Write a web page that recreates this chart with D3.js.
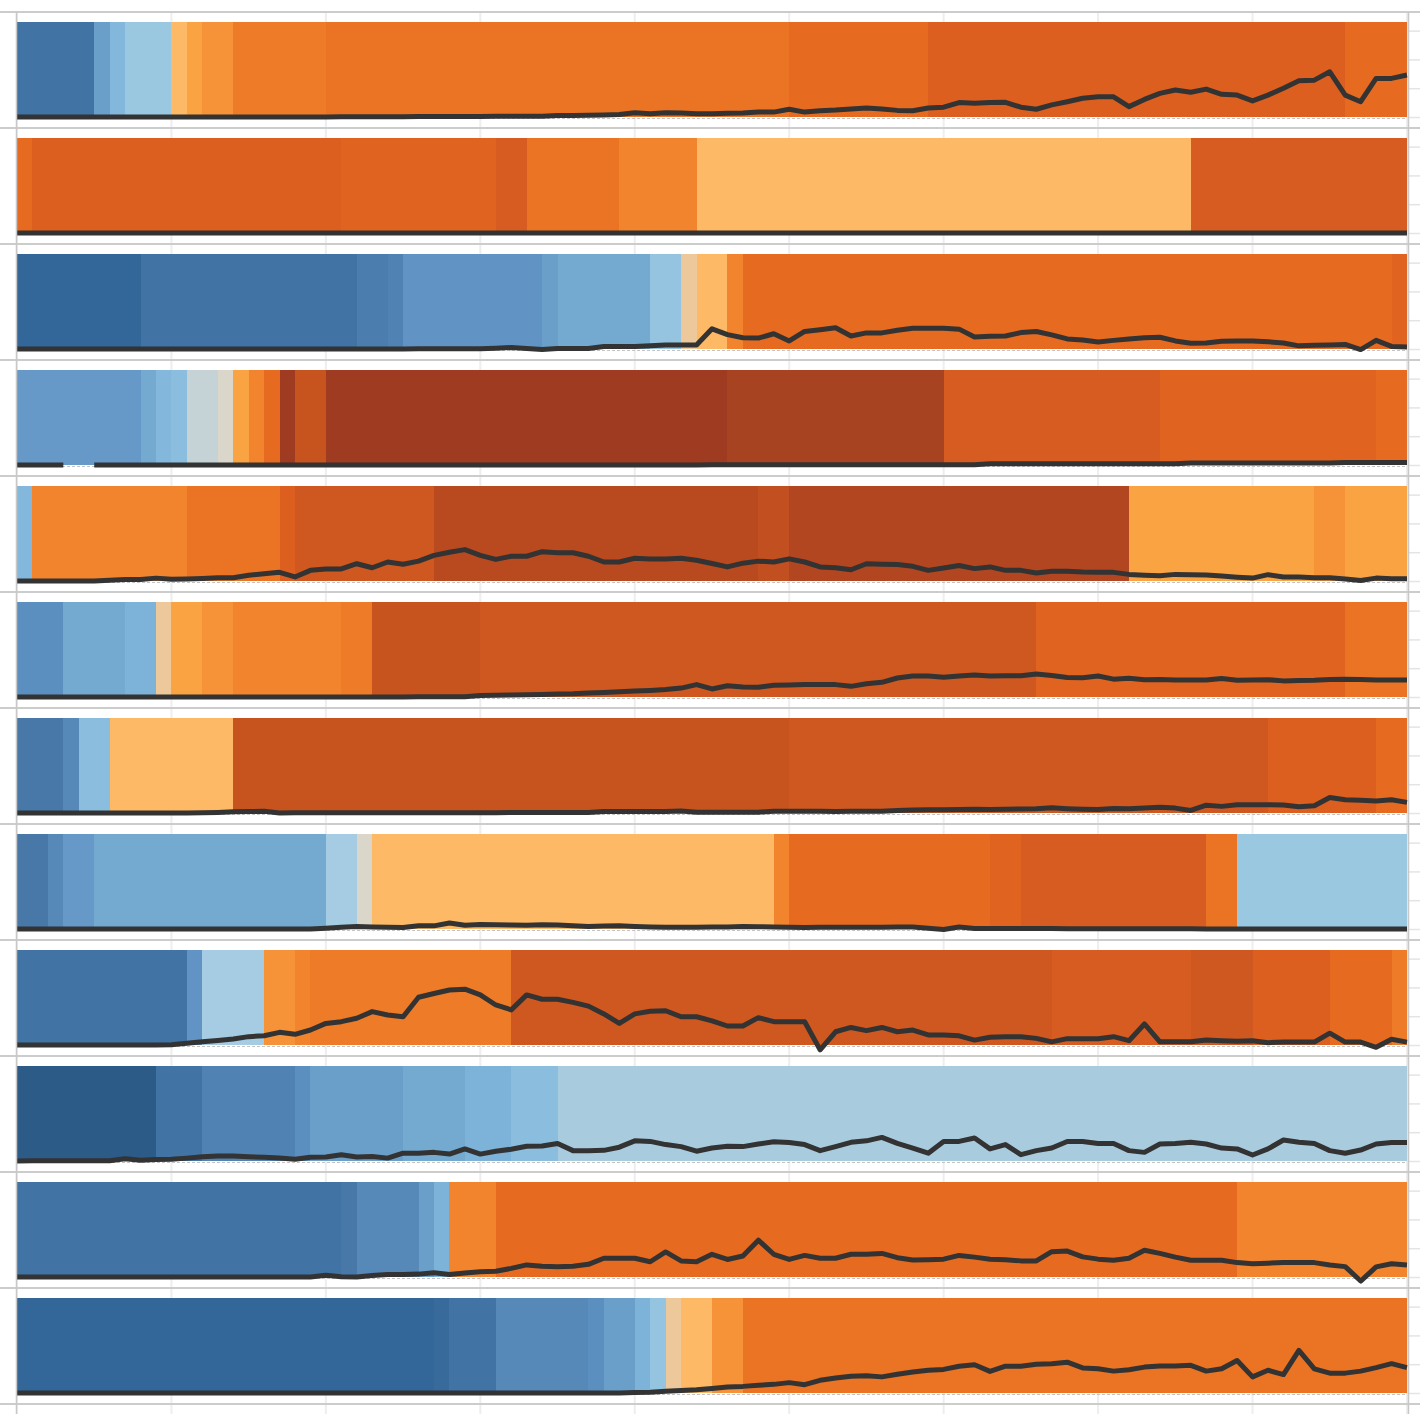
<!DOCTYPE html>
<html>
<head>
<meta charset="utf-8">
<script src="https://cdn.jsdelivr.net/npm/d3@7"></script>
<style>
  body { margin: 0; background: #fff; }
  svg { display: block; }
</style>
</head>
<body>
<div id="chart"></div>
<script>
// shade levels, dark blue -> dark brown
const shades = [
  "#2c5b88", "#336699", "#386a9c", "#4173a4", "#4878a8", "#4b7eae", "#5083b3", "#5688b8",
  "#5a8fbf", "#6194c4", "#6699c8", "#6a9fca", "#74a9d0", "#7db3d8", "#83b8dc", "#8bbede",
  "#94c4e0", "#99c8e0", "#a5cce2", "#a9cbde", "#c5d3d6", "#dad6ca", "#ecc89b", "#fdb966",
  "#f9a343", "#f69238", "#f1842d", "#ee7b27", "#eb7424", "#e66b21", "#e06420", "#dc5f20",
  "#d65c22", "#ce5820", "#c7531f", "#c24f1f", "#b94a20", "#b24620", "#a84321", "#9e3b21"
];

// bands: [start, end, shade level]
const row1Bands = [[0,5,3],[5,6,11],[6,7,14],[7,10,17],[10,11,23],[11,12,24],[12,14,25],[14,20,27],[20,50,28],[50,59,29],[59,86,31],[86,90,29]];
const row2Bands = [[0,1,29],[1,21,31],[21,31,30],[31,33,32],[33,39,28],[39,44,26],[44,76,23],[76,90,32]];
const row3Bands = [[0,8,1],[8,22,3],[22,24,5],[24,25,6],[25,34,9],[34,35,11],[35,41,12],[41,43,16],[43,44,22],[44,46,23],[46,47,26],[47,89,29],[89,90,30]];
const row4Bands = [[0,8,10],[8,9,12],[9,10,14],[10,11,15],[11,13,20],[13,14,21],[14,15,24],[15,16,26],[16,17,29],[17,18,39],[18,20,34],[20,46,39],[46,60,38],[60,74,32],[74,88,30],[88,90,29]];
const row5Bands = [[0,1,14],[1,11,26],[11,17,28],[17,18,31],[18,27,33],[27,48,36],[48,50,35],[50,72,37],[72,84,24],[84,86,25],[86,90,24]];
const row6Bands = [[0,3,8],[3,7,12],[7,9,13],[9,10,22],[10,12,24],[12,14,25],[14,21,26],[21,23,27],[23,30,34],[30,66,33],[66,86,30],[86,90,28]];
const row7Bands = [[0,3,4],[3,4,7],[4,6,15],[6,14,23],[14,50,34],[50,81,33],[81,88,31],[88,90,29]];
const row8Bands = [[0,2,4],[2,3,7],[3,5,10],[5,20,12],[20,22,18],[22,23,21],[23,49,23],[49,50,26],[50,63,29],[63,65,30],[65,77,32],[77,79,28],[79,90,17]];
const row9Bands = [[0,11,3],[11,12,9],[12,16,18],[16,18,25],[18,19,26],[19,32,27],[32,67,33],[67,76,32],[76,80,33],[80,85,31],[85,89,29],[89,90,27]];
const row10Bands = [[0,9,0],[9,12,3],[12,18,6],[18,19,8],[19,25,11],[25,29,12],[29,32,13],[32,35,15],[35,90,19]];
const row11Bands = [[0,21,3],[21,22,4],[22,26,7],[26,27,11],[27,28,13],[28,31,26],[31,79,29],[79,90,26]];
const row12Bands = [[0,27,1],[27,28,2],[28,31,3],[31,37,7],[37,38,8],[38,40,11],[40,41,13],[41,42,16],[42,43,22],[43,45,23],[45,47,25],[47,90,28]];

// line values, one per step 0..90
const row1Values = [
  0,0,0,0,0,0,0,0,0,0, 0,0,0,0,0,0,0,0,0,0,
  0,0.1,0.1,0.1,0.1,0.1,0.2,0.2,0.2,0.2,
  0.2,0.3,0.3,0.3,0.3,0.5,0.5,0.6,0.7,0.9,
  1.5,1.1,1.5,1.4,1.1,1.1,1.3,1.4,1.7,1.7,
  2.7,1.7,2.2,2.4,2.8,3.1,2.8,2.3,2.2,3.1,
  3.4,5.0,4.8,5.0,5.1,3.4,2.7,4.2,5.3,6.5,
  7.0,7.0,3.6,6.1,8.2,9.4,8.6,9.7,7.9,7.6,
  5.6,7.6,10.0,12.6,12.8,15.7,7.6,5.3,13.4,13.4,
  14.6];
const row2Values = [
  0,0,0,0,0,0,0,0,0,0, 0,0,0,0,0,0,0,0,0,0,
  0,0,0,0,0,0,0,0,0,0, 0,0,0,0,0,0,0,0,0,0,
  0,0,0,0,0,0,0,0,0,0, 0,0,0,0,0,0,0,0,0,0,
  0,0,0,0,0,0,0,0,0,0, 0,0,0,0,0,0,0,0,0,0,
  0,0,0,0,0,0,0,0,0,0, 0];
const row3Values = [
  0,0,0,0,0,0,0,0,0,0, 0,0,0,0,0,0,0,0,0,0,
  0,0,0,0,0,0,0.1,0.1,0.1,0.1,
  0.1,0.3,0.5,0.2,-0.2,0.2,0.2,0.2,0.9,0.9,
  0.9,1.1,1.4,1.4,1.4,7.0,5.0,3.9,3.8,5.3,
  2.8,6.1,6.7,7.4,4.5,5.6,5.6,6.5,7.2,7.2,
  7.2,6.9,4.2,4.4,4.5,5.7,6.1,4.9,3.5,3.1,
  2.4,3.0,3.5,3.9,4.1,2.8,2.0,2.1,2.7,2.8,
  2.8,2.5,2.1,1.1,1.3,1.4,1.6,-0.2,3.0,0.9,
  0.7];
const row4Values = [
  0,0,0,0,null,0,0,0,0,0, 0,0,0,0,0,0,0,0,0,0,
  0,0,0,0,0,0,0,0,0,0, 0,0,0,0,0,0,0,0,0,0,
  0,0,0,0,0,0.1,0.1,0.1,0.1,0.1,
  0.1,0.1,0.1,0.1,0.1,0.1,0.1,0.1,0.1,0.1,
  0.1,0.1,0.1,0.4,0.4,0.4,0.4,0.4,0.4,0.4,
  0.4,0.4,0.4,0.4,0.4,0.4,0.7,0.7,0.7,0.7,
  0.7,0.7,0.7,0.7,0.7,0.7,0.9,0.9,0.9,0.9,
  0.9];
const row5Values = [
  0,0,0,0,0,0,0.3,0.5,0.5,1.0,
  0.6,0.7,0.9,1.1,1.1,2.0,2.5,3.0,1.4,3.7,
  4.2,4.2,6.0,4.6,6.6,5.8,6.9,8.9,10.0,10.9,
  8.9,7.5,8.6,8.6,10.2,9.8,9.8,8.6,6.6,6.6,
  7.9,7.6,7.6,7.9,7.2,6.1,4.9,6.2,6.9,6.6,
  7.7,6.6,4.9,4.6,3.9,6.0,5.8,5.7,5.1,3.7,
  4.5,5.4,4.3,4.9,3.7,3.7,2.8,3.4,3.4,3.1,
  3.0,3.0,2.3,2.0,1.8,2.3,2.2,2.1,1.7,1.3,
  1.0,2.2,1.4,1.4,1.1,1.1,0.7,0.2,1.0,0.8,
  0.8];
const row6Values = [
  0,0,0,0,0,0,0,0,0,0, 0,0,0,0,0,0,0,0,0,0,
  0,0,0,0,0,0,0.1,0.1,0.1,0.1,
  0.5,0.6,0.7,0.8,0.9,1.0,1.1,1.4,1.6,1.8,
  2.1,2.3,2.6,3.1,4.3,2.8,3.9,3.5,3.4,4.1,
  4.2,4.3,4.3,4.3,3.7,4.6,5.1,6.6,7.3,7.3,
  6.9,7.3,7.6,7.3,7.4,7.4,8.0,7.5,6.8,6.7,
  7.3,6.2,6.5,6.0,6.1,5.9,5.9,5.9,6.4,5.8,
  5.9,6.0,5.6,5.7,5.8,6.1,6.2,6.1,5.9,5.9,
  5.9];
const row7Values = [
  0,0,0,0,0,0,0,0,0,0,
  0,0,0.1,0.2,0.4,0.5,0.6,0,0.1,0.1,
  0.1,0.1,0.1,0.1,0.1,0.1,0.1,0.1,0.1,0.1,
  0.1,0.1,0.2,0.2,0.2,0.2,0.2,0.2,0.5,0.5,
  0.5,0.5,0.5,0.7,0.3,0.3,0.3,0.3,0.3,0.6,
  0.6,0.6,0.6,0.5,0.6,0.6,0.6,0.9,1.0,1.1,
  1.1,1.2,1.3,1.2,1.3,1.4,1.5,1.8,1.5,1.3,
  1.2,1.6,1.5,1.7,2.0,1.7,0.9,2.7,2.3,2.9,
  2.9,2.9,2.8,2.2,2.5,5.4,4.6,4.4,4.2,4.6,
  3.7];
const row8Values = [
  0,0,0,0,0,0,0,0,0,0, 0,0,0,0,0,0,0,0,0,0,
  0.3,0.6,0.9,0.7,0.6,0.5,1.1,1.1,2.1,1.3,
  1.6,1.5,1.4,1.3,1.5,1.4,1.1,0.9,1.0,1.1,
  0.9,0.7,0.6,0.6,0.6,0.7,0.7,0.9,0.8,0.7,
  0.6,0.5,0.6,0.6,0.6,0.6,0.6,0.7,0.7,0.3,
  -0.2,0.7,0.2,0.2,0.2,0.2,0.2,0.2,0.1,0.1,
  0.1,0.1,0.1,0.1,0.1,0.1,0.1,0,0,0,
  0,0,0,0,0,0,0,0,0,0,
  0];
const row9Values = [
  0,0,0,0,0,0,0,0,0,0,
  0.1,0.6,1.1,1.6,2.1,2.9,3.2,4.4,3.7,5.2,
  7.5,8.1,9.3,11.6,10.4,9.8,16.6,17.9,19.1,19.4,
  17.4,13.9,12.2,17.4,15.9,15.9,14.8,13.5,10.8,7.5,
  10.8,11.7,11.9,9.8,9.8,8.4,6.6,6.6,9.5,8.1,
  8.1,8.1,-1.7,4.6,6.1,5.0,6.1,4.6,5.2,3.5,
  3.5,3.2,1.7,2.7,2.9,2.9,2.3,1.1,2.2,2.2,
  2.2,2.9,1.5,7.3,1.1,1.1,1.1,1.7,1.5,1.3,
  1.5,0.8,1.0,1.0,1.0,4.1,1.0,1.0,-0.8,2.0,
  1.0];
const row10Values = [
  0,0.1,0.1,0.1,0.1,0.1,0.1,0.8,0.3,0.5,
  0.6,1.0,1.5,1.7,1.7,1.5,1.3,1.0,0.6,1.3,
  1.4,2.2,1.4,1.6,1.0,2.7,2.7,3.0,2.4,4.2,
  2.4,3.4,4.1,5.1,5.2,6.1,3.6,3.6,3.7,4.8,
  7.0,6.8,5.7,5.0,3.4,4.5,5.1,5.0,5.9,6.7,
  6.4,5.7,3.6,5.0,6.5,7.0,8.2,6.1,4.5,2.7,
  6.8,6.8,8.0,4.2,5.7,2.2,3.6,4.5,6.8,6.8,
  6.1,6.1,3.6,3.0,5.9,6.1,6.5,5.9,4.5,4.2,
  2.1,4.2,7.3,6.5,6.1,3.6,2.7,3.8,5.9,6.4,
  6.4];
const row11Values = [
  0,0,0,0,0,0,0,0,0,0, 0,0,0,0,0,0,0,0,0,0,
  0.6,0.1,0,0.5,0.9,0.9,1.0,1.5,0.9,1.4,
  1.8,2.0,3.0,4.2,3.7,3.6,3.7,4.4,6.5,6.5,
  6.5,5.3,8.7,5.6,5.3,7.9,6.1,7.3,12.8,7.9,
  6.1,7.5,6.5,6.5,7.9,7.9,8.2,6.7,5.9,6.0,
  6.2,7.5,6.9,6.2,6.0,5.6,5.6,8.8,9.0,7.0,
  6.2,5.8,6.5,9.3,8.2,6.9,5.8,5.8,5.8,5.0,
  4.6,4.8,5.0,5.0,5.0,4.2,3.6,-1.4,3.5,4.6,
  4.2];
const row12Values = [
  0,0,0,0,0,0,0,0,0,0, 0,0,0,0,0,0,0,0,0,0,
  0,0,0,0,0,0,0,0,0,0, 0,0,0,0,0,0,0,0,0,0,
  0.2,0.3,0.6,0.9,1.1,1.6,2.1,2.3,2.7,3.0,
  3.6,2.9,4.4,5.2,5.8,6.0,5.6,6.5,7.3,7.9,
  8.2,9.3,9.8,7.5,9.3,9.3,10.0,10.2,10.7,8.7,
  8.4,7.6,8.1,9.0,9.4,9.4,9.6,7.6,8.4,11.3,
  5.6,7.9,6.4,14.8,8.4,6.9,6.9,7.6,8.8,10.2,
  8.8];

const yTicks = [0, 10, 20, 30];

const rows = [
  { bands: row1Bands, values: row1Values },
  { bands: row2Bands, values: row2Values },
  { bands: row3Bands, values: row3Values },
  { bands: row4Bands, values: row4Values },
  { bands: row5Bands, values: row5Values },
  { bands: row6Bands, values: row6Values },
  { bands: row7Bands, values: row7Values },
  { bands: row8Bands, values: row8Values },
  { bands: row9Bands, values: row9Values },
  { bands: row10Bands, values: row10Values },
  { bands: row11Bands, values: row11Values },
  { bands: row12Bands, values: row12Values }
];

let width = 1420,
    height = 1414;

const svg = d3.select("#chart")
      .append("svg")
      .attr("width", width)
      .attr("height", height);

const x = d3.scaleLinear().domain([0, 90]).range([17, 1407]);
const rowY = d3.scaleBand().domain(d3.range(rows.length)).range([12, 1404]);
const y = d3.scaleLinear().domain([0, 33]).range([105, 10]);
const color = d3.scaleLinear().domain(d3.range(shades.length)).range(shades);

// vertical grid
svg.append("g")
  .selectAll("line")
  .data(x.ticks(9))
  .enter().append("line")
    .attr("x1", d => x(d))
    .attr("x2", d => x(d))
    .attr("y1", 12)
    .attr("y2", height)
    .style("stroke", "#eeeeee")
    .style("stroke-width", 2);

const line = d3.line()
  .defined(d => d != null)
  .x((d, i) => x(i))
  .y(d => y(d));

const row = svg.selectAll(".row")
    .data(rows)
    .enter().append("g")
    .attr("class", "row")
    .attr("transform", (d, i) => "translate(0," + rowY(i) + ")");

row.selectAll("rect")
  .data(d => d.bands)
  .enter().append("rect")
    .attr("x", d => x(d[0]))
    .attr("width", d => x(d[1]) - x(d[0]))
    .attr("y", y(33))
    .attr("height", y(0) - y(33))
    .attr("shape-rendering", "crispEdges")
    .style("fill", d => color(d[2]));

// dashed zero line
row.append("line")
  .attr("x1", x(0))
  .attr("x2", x(90))
  .attr("y1", y(0) + 1.5)
  .attr("y2", y(0) + 1.5)
  .style("stroke", "#c4c4c4")
  .style("stroke-width", 1)
  .style("stroke-dasharray", "3,2");

row.append("path")
  .attr("d", d => line(d.values))
  .style("fill", "none")
  .style("stroke", "#333333")
  .style("stroke-width", 5)
  .style("stroke-linejoin", "round");

// right axis ticks
row.append("g")
  .attr("transform", "translate(" + 1409 + ",0)")
  .call(d3.axisRight(y).tickValues(yTicks).tickSize(11).tickFormat(""))
  .call(g => g.select(".domain").remove())
  .call(g => g.selectAll(".tick line").style("stroke", "#e4e4e4").style("stroke-width", 1.5));

// row separators
svg.append("g")
  .selectAll("line")
  .data(d3.range(rows.length + 1))
  .enter().append("line")
    .attr("x1", 0)
    .attr("x2", width)
    .attr("y1", d => (d < rows.length ? rowY(d) : 1404))
    .attr("y2", d => (d < rows.length ? rowY(d) : 1404))
    .style("stroke", "#cccccc")
    .style("stroke-width", 2);

// left and right axis lines
svg.append("g")
  .selectAll("line")
  .data([16.5, 1408.5])
  .enter().append("line")
    .attr("x1", d => d)
    .attr("x2", d => d)
    .attr("y1", 12)
    .attr("y2", height)
    .style("stroke", "#c8c8c8")
    .style("stroke-width", 1.5);
</script>
</body>
</html>
